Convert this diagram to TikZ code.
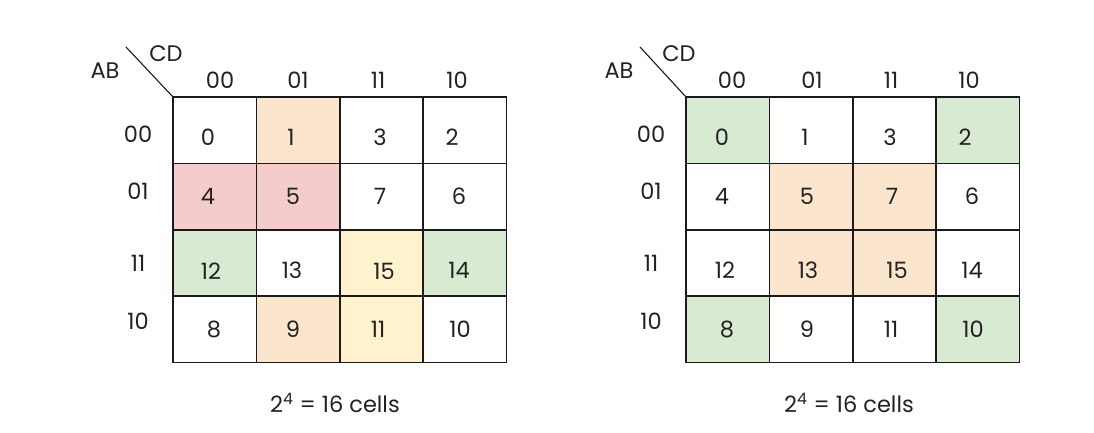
\documentclass[tikz,border=0pt]{standalone}
\usepackage{fontspec}
\setmainfont{Poppins}
\definecolor{kpeach}{HTML}{FCE5CD}
\definecolor{kpink}{HTML}{F4CCCC}
\definecolor{kgreen}{HTML}{D9EAD3}
\definecolor{kyellow}{HTML}{FFF2CC}
\definecolor{kline}{HTML}{1A1A1A}
\definecolor{ktext}{HTML}{222222}
\begin{document}
\begin{tikzpicture}[x=1pt,y=-1pt,
  cell/.style={minimum width=83.25pt, minimum height=66.25pt, inner sep=0pt, anchor=north west},
  border/.style={draw=kline, line width=1.3pt},
  num/.style={font=\fontsize{22.5}{26}\selectfont, text=ktext, inner sep=0pt},
  lbl/.style={font=\fontsize{22.5}{26}\selectfont, text=ktext, inner sep=0pt},
  diag/.style={draw=kline, line width=1.1pt}]
\useasboundingbox (0,0) rectangle (1094,433);
\fill[white] (0,0) rectangle (1094,433);
% left grid
\foreach \r/\fa/\fb/\fc/\fd in {0/white/kpeach/white/white,1/kpink/kpink/white/white,2/kgreen/white/kyellow/kgreen,3/white/kpeach/kyellow/white}{
  \foreach \c/\f in {0/\fa,1/\fb,2/\fc,3/\fd}{
    \node[cell, fill=\f] (L\r\c) at ({173+83.25*\c},{97+66.25*\r}) {};
  }
}
% right grid
\foreach \r/\fa/\fb/\fc/\fd in {0/kgreen/white/white/kgreen,1/white/kpeach/kpeach/white,2/white/kpeach/kpeach/white,3/kgreen/white/white/kgreen}{
  \foreach \c/\f in {0/\fa,1/\fb,2/\fc,3/\fd}{
    \node[cell, fill=\f] (R\r\c) at ({686+83.25*\c},{97+66.25*\r}) {};
  }
}
% borders
\foreach \r in {0,...,3}{
  \foreach \c in {0,...,3}{
    \draw[border] (L\r\c.north west) rectangle (L\r\c.south east);
    \draw[border] (R\r\c.north west) rectangle (R\r\c.south east);
  }
}
% left numbers
\foreach \t/\x/\y [count=\i] in {0/208/137,1/291/137,3/380/137,2/452/137,4/208/196,5/293/196,7/380/196,6/459/196,12/211/271,13/292/270,15/384/271,14/459/270,8/214/329,9/293/329,11/378/329,10/460/329}{
  \node[num] (Ln\i) at (\x,\y) {\t};
}
% right numbers
\foreach \t/\x/\y [count=\i] in {0/722/137,1/805/137,3/890/137,2/965/137,4/722/196,5/807/196,7/892/196,6/972/196,12/725/270,13/808/270,15/897/270,14/972/270,8/727/329,9/807/329,11/891/329,10/973/329}{
  \node[num] (Rn\i) at (\x,\y) {\t};
}
% left labels
\node[lbl] (LAB) at (105,71) {AB};
\node[lbl] (LCD) at (166,54) {CD};
\foreach \t/\x [count=\i] in {00/220,01/298,11/378,10/457}{ \node[lbl] (Lc\i) at (\x,80) {\t}; }
\foreach \t/\y [count=\i] in {00/134,01/191,11/263,10/321}{ \node[lbl] (Lr\i) at (138,\y) {\t}; }
\coordinate (Ltip) at (126,47);
\draw[diag] (Ltip) -- (L00.north west);
% right labels
\node[lbl] (RAB) at (619,71) {AB};
\node[lbl] (RCD) at (679,54) {CD};
\foreach \t/\x [count=\i] in {00/732,01/812,11/891,10/969}{ \node[lbl] (Rc\i) at (\x,80) {\t}; }
\foreach \t/\y [count=\i] in {00/134,01/191,11/263,10/321}{ \node[lbl] (Rr\i) at (651,\y) {\t}; }
\coordinate (Rtip) at (640,47);
\draw[diag] (Rtip) -- (R00.north west);
% captions
\node[lbl] (Lcap) at (335,403) {2\textsuperscript{4} = 16 cells};
\node[lbl] (Rcap) at (849,403) {2\textsuperscript{4} = 16 cells};
\end{tikzpicture}
\end{document}
